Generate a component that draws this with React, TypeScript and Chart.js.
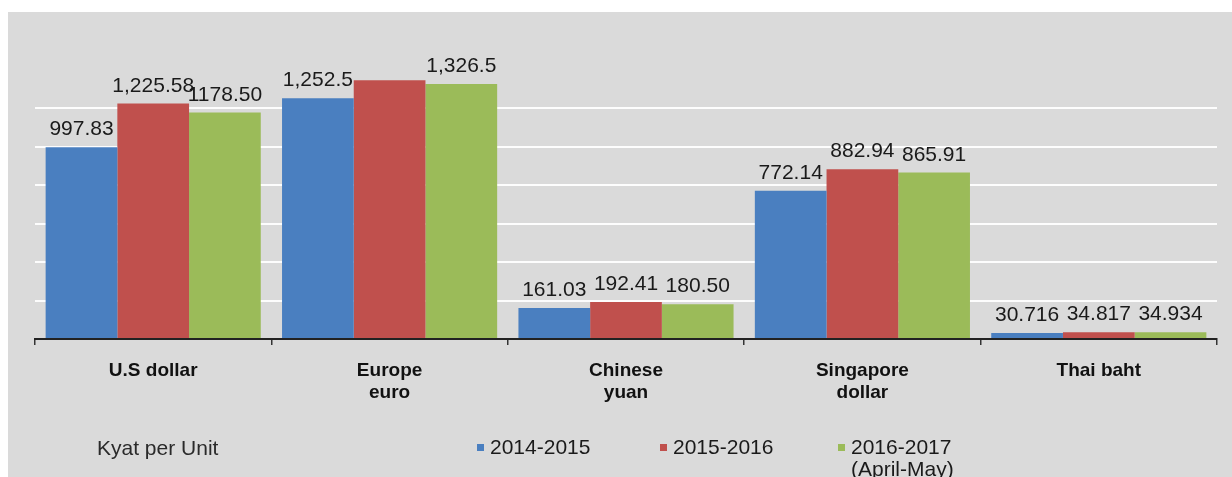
import React, { useEffect, useRef } from "react";
import { Chart, registerables } from "chart.js";

Chart.register(...registerables);

const categories: string[][] = [
  ["U.S dollar"],
  ["Europe", "euro"],
  ["Chinese", "yuan"],
  ["Singapore", "dollar"],
  ["Thai baht"],
];
const seriesNames = ["2014-2015", "2015-2016", "2016-2017"];
const series2014 = [997.83, 1252.5, 161.03, 772.14, 30.716];
const series2015 = [1225.58, 1347, 192.41, 882.94, 34.817];
const series2016 = [1178.5, 1326.5, 180.5, 865.91, 34.934];
const labels2014 = ["997.83", "1,252.5", "161.03", "772.14", "30.716"];
const labels2015 = ["1,225.58", null, "192.41", "882.94", "34.817"];
const labels2016 = ["1178.50", "1,326.5", "180.50", "865.91", "34.934"];
const yMax = 1400;
const yStep = 200;
const unitTitle = "Kyat per Unit";
const legendNote = "(April-May)";

const COLORS = ["#4A7FC0", "#C0504D", "#9BBB59"];
const FONT = "'Liberation Sans', Arial, sans-serif";

export default function App() {
  const ref = useRef<HTMLCanvasElement | null>(null);

  useEffect(() => {
    if (!ref.current) return;
    const labelSets = [labels2014, labels2015, labels2016];

    const bgPlugin = {
      id: "bg",
      beforeDraw(chart: any) {
        const ctx = chart.ctx;
        ctx.save();
        ctx.fillStyle = "#ffffff";
        ctx.fillRect(0, 0, chart.width, chart.height);
        ctx.fillStyle = "#dadada";
        ctx.fillRect(8, 12, chart.width - 8, chart.height - 12);
        ctx.restore();
      },
    };

    const labelPlugin = {
      id: "valueLabels",
      afterDatasetsDraw(chart: any) {
        const ctx = chart.ctx;
        ctx.save();
        ctx.font = `21px ${FONT}`;
        ctx.fillStyle = "#1a1a1a";
        ctx.textAlign = "center";
        ctx.textBaseline = "alphabetic";
        chart.data.datasets.forEach((ds: any, di: number) => {
          const meta = chart.getDatasetMeta(di);
          meta.data.forEach((bar: any, i: number) => {
            const txt = labelSets[di][i];
            if (!txt) return;
            ctx.fillText(txt, bar.x, bar.y - 12);
          });
        });
        ctx.restore();
      },
    };

    const legendPlugin = {
      id: "customLegend",
      afterDraw(chart: any) {
        const ctx = chart.ctx;
        ctx.save();
        ctx.font = `21px ${FONT}`;
        ctx.textBaseline = "middle";
        ctx.textAlign = "left";
        ctx.fillStyle = "#2a2a2a";
        ctx.fillText(unitTitle, 97, 449);
        const xs = [477, 660, 838];
        seriesNames.forEach((name, i) => {
          ctx.fillStyle = COLORS[i];
          ctx.fillRect(xs[i], 444, 7, 7);
          ctx.fillStyle = "#1a1a1a";
          ctx.fillText(name, xs[i] + 13, 448);
        });
        ctx.fillText(legendNote, xs[2] + 13, 470);
        ctx.restore();
      },
    };

    const chart = new Chart(ref.current, {
      type: "bar",
      data: {
        labels: categories,
        datasets: [series2014, series2015, series2016].map((d, i) => ({
          label: seriesNames[i],
          data: d,
          backgroundColor: COLORS[i],
          borderWidth: 0,
          categoryPercentage: 0.91,
          barPercentage: 1,
        })),
      },
      options: {
        responsive: false,
        animation: false,
        layout: { padding: { left: 35, right: 15, top: 70, bottom: 0 } },
        plugins: {
          legend: { display: false },
          tooltip: { enabled: false },
          title: { display: false },
        },
        scales: {
          x: {
            afterFit(scale: any) {
              scale.height = 138;
            },
            grid: {
              offset: true,
              drawOnChartArea: false,
              drawTicks: true,
              tickLength: 6,
              color: "#333333",
              lineWidth: 1.5,
            },
            border: { display: true, color: "#222222", width: 2 },
            ticks: {
              color: "#111111",
              padding: 14,
              maxRotation: 0,
              autoSkip: false,
              font: { family: FONT, size: 19, weight: "bold", lineHeight: 1.2 },
            },
          },
          y: {
            min: 0,
            max: yMax,
            afterFit(scale: any) {
              scale.width = 0;
            },
            ticks: { display: false, stepSize: yStep },
            grid: {
              drawTicks: false,
              lineWidth: 2,
              color: (c: any) =>
                c.tick && c.tick.value > 0 && c.tick.value < yMax
                  ? "rgba(255,255,255,0.95)"
                  : "rgba(0,0,0,0)",
            },
            border: { display: false },
          },
        },
      },
      plugins: [bgPlugin, labelPlugin, legendPlugin],
    } as any);

    return () => chart.destroy();
  }, []);

  return (
    <div style={{ position: "absolute", left: 0, top: 0, width: 1232, height: 477 }}>
      <canvas ref={ref} width={1232} height={477} style={{ display: "block" }} />
    </div>
  );
}
